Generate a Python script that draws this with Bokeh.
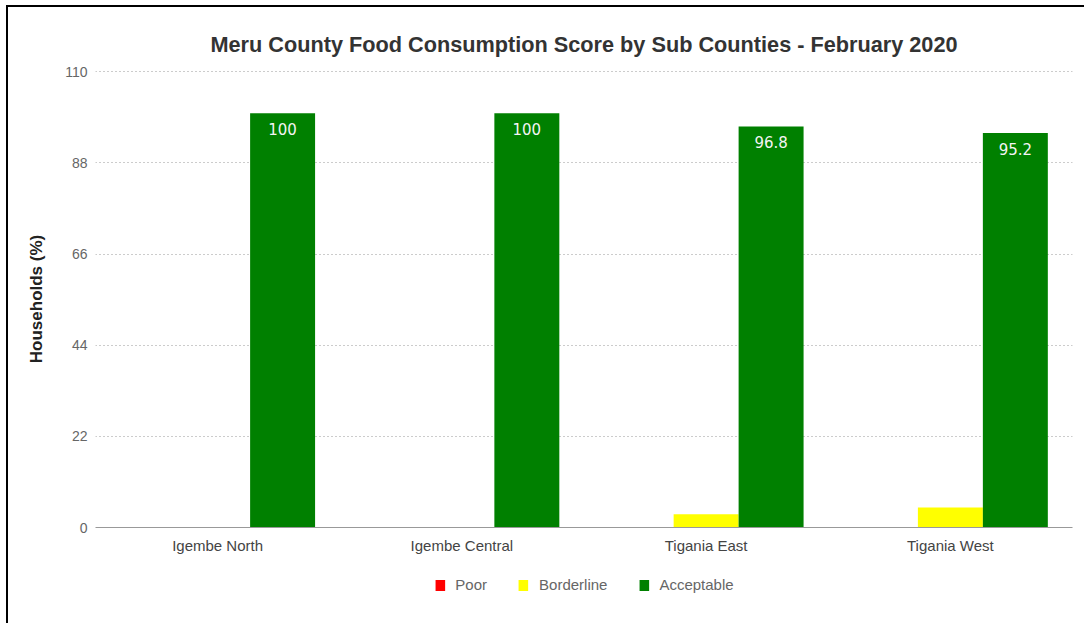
from bokeh.plotting import figure
from bokeh.layouts import column
from bokeh.models import (ColumnDataSource, FactorRange, Range1d, FixedTicker, Legend,
                          LegendItem)
from bokeh.transform import dodge
from bokeh.core.properties import value
from bokeh.embed import file_html
from bokeh.resources import INLINE

categories = ["Igembe North", "Igembe Central", "Tigania East", "Tigania West"]
poor = [0, 0, 0, 0]
borderline = [0, 0, 3.2, 4.8]
acceptable = [100, 100, 96.8, 95.2]
acceptable_labels = ["100", "100", "96.8", "95.2"]
y_ticks = [0, 22, 44, 66, 88, 110]
series_names = ["Poor", "Borderline", "Acceptable"]
series_colors = ["#ff0000", "#ffff00", "#008000"]

src = ColumnDataSource(dict(cat=categories, poor=poor, borderline=borderline,
                            acceptable=acceptable, lab=acceptable_labels))

FONT = "Liberation Sans"

p = figure(x_range=FactorRange(*categories, range_padding=0), y_range=Range1d(0, 110.3),
           width=1076, height=560, output_backend="svg", toolbar_location=None,
           min_border_left=87, min_border_right=12, min_border_top=63, min_border_bottom=40)
p.outline_line_color = None
p.background_fill_color = "white"
p.border_fill_color = "white"

w = 0.266
fields = ["poor", "borderline", "acceptable"]
offsets = [-w, 0, w]
for f, off, col in zip(fields, offsets, series_colors):
    p.vbar(x=dodge("cat", off, range=p.x_range), top=f, width=w, source=src,
           fill_color=col, line_color=None)

p.text(x=dodge("cat", w, range=p.x_range), y="acceptable", text="lab", source=src,
       text_color="#f4f4f4", text_font=value("DejaVu Sans"), text_font_size="15px",
       text_align="center", text_baseline="middle", y_offset=16)

# axes
p.yaxis.ticker = FixedTicker(ticks=y_ticks)
p.yaxis.axis_line_color = None
p.yaxis.major_tick_line_color = None
p.yaxis.major_tick_out = 0
p.yaxis.minor_tick_line_color = None
p.yaxis.major_label_standoff = 8
p.yaxis.major_label_text_font = FONT
p.yaxis.major_label_text_font_size = "14px"
p.yaxis.major_label_text_color = "#666666"
p.yaxis.axis_label = "Households (%)"
p.yaxis.axis_label_text_font = FONT
p.yaxis.axis_label_text_font_style = "bold"
p.yaxis.axis_label_text_font_size = "17px"
p.yaxis.axis_label_text_color = "#222222"
p.yaxis.axis_label_standoff = 16

p.xaxis.axis_line_color = "#999999"
p.xaxis.major_tick_line_color = None
p.xaxis.major_tick_out = 0
p.xaxis.minor_tick_line_color = None
p.xaxis.major_label_standoff = 9
p.xaxis.major_label_text_font = FONT
p.xaxis.major_label_text_font_size = "15px"
p.xaxis.major_label_text_color = "#444444"

p.xgrid.grid_line_color = None
p.ygrid.grid_line_color = "#999999"
p.ygrid.grid_line_dash = "1 3"

# title
p.title.text = "Meru County Food Consumption Score by Sub Counties - February 2020"
p.title.align = "center"
p.title.text_font = FONT
p.title.text_font_size = "21.7px"
p.title.text_font_style = "bold"
p.title.text_color = "#333333"
p.title.standoff = 27

# legend strip (renderers sit outside the visible range; only the legend shows)
lg = figure(width=1076, height=56, output_backend="svg", toolbar_location=None,
            x_range=Range1d(0, 1), y_range=Range1d(0, 1),
            min_border_left=87, min_border_right=12, min_border_top=0, min_border_bottom=0)
lg.axis.visible = False
lg.grid.visible = False
lg.outline_line_color = None
hidden = ColumnDataSource(dict(x=[-10.0], top=[-10.0]))
items = []
for n, col in zip(series_names, series_colors):
    r = lg.vbar(x="x", top="top", bottom=-20, width=0.1, source=hidden,
                fill_color=col, line_color=None)
    items.append(LegendItem(label=n, renderers=[r]))
legend = Legend(items=items, orientation="horizontal", location="top_center",
                border_line_color=None, background_fill_alpha=0,
                label_text_font=FONT, label_text_font_size="15px", label_text_color="#666666",
                glyph_width=12, glyph_height=14, label_height=16, spacing=30,
                label_standoff=10, padding=4, margin=9)
lg.add_layout(legend, "center")

layout = column(p, lg, spacing=0)
layout.styles = {"border-top": "2px solid black", "border-left": "2px solid black",
                 "margin-left": "6px", "margin-top": "5px"}

open("out.html", "w").write(file_html(layout, INLINE))
